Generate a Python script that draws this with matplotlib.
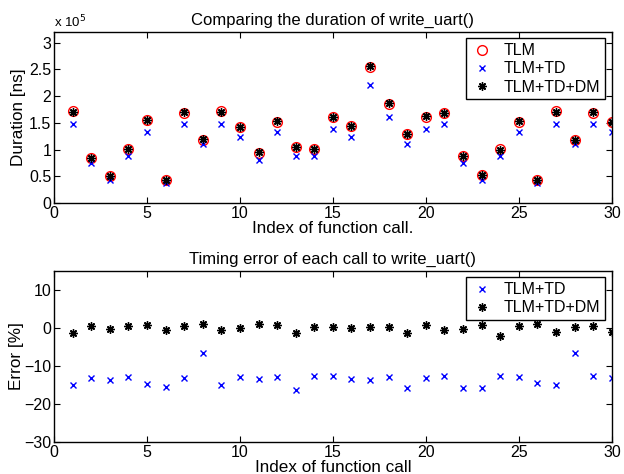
import matplotlib
matplotlib.use("Agg")
import matplotlib.pyplot as plt
import numpy as np

plt.rcParams['font.family'] = ['Liberation Sans', 'DejaVu Sans']
plt.rcParams['font.size'] = 11

calls = np.arange(1, 31)

# duration in units of 1e5 ns
tlm = [1.72, 0.84, 0.51, 1.01, 1.55, 0.43, 1.69, 1.18, 1.72, 1.42,
       0.94, 1.52, 1.05, 1.01, 1.61, 1.44, 2.55, 1.86, 1.30, 1.61,
       1.69, 0.88, 0.52, 1.01, 1.52, 0.43, 1.72, 1.18, 1.69, 1.52]
tlm_td = [1.47, 0.74, 0.43, 0.88, 1.32, 0.37, 1.47, 1.10, 1.47, 1.24,
          0.81, 1.32, 0.88, 0.88, 1.39, 1.24, 2.21, 1.61, 1.10, 1.39,
          1.47, 0.74, 0.43, 0.88, 1.32, 0.37, 1.47, 1.10, 1.47, 1.32]
tlm_td_dm = [1.70, 0.84, 0.51, 1.01, 1.56, 0.43, 1.70, 1.19, 1.71, 1.42,
             0.95, 1.53, 1.04, 1.01, 1.61, 1.44, 2.56, 1.87, 1.29, 1.62,
             1.68, 0.88, 0.52, 0.99, 1.53, 0.43, 1.71, 1.18, 1.70, 1.51]

# error in percent
err_td = [-15.0, -13.1, -13.6, -12.8, -14.8, -15.4, -13.1, -6.6, -15.0, -12.8,
          -13.4, -12.8, -16.4, -12.7, -12.7, -13.4, -13.6, -12.8, -15.7, -13.1,
          -12.7, -15.9, -15.9, -12.7, -12.8, -14.5, -15.0, -6.6, -12.7, -13.1]
err_dm = [-1.2, 0.4, -0.2, 0.4, 0.7, -0.6, 0.4, 1.0, -0.6, 0.0,
          1.0, 0.7, -1.2, 0.3, 0.3, -0.1, 0.3, 0.3, -1.2, 0.9,
          -0.6, -0.2, 0.9, -2.1, 0.6, 1.1, -1.0, 0.3, 0.6, -1.0]

fig = plt.figure(figsize=(6.24, 4.74), dpi=100)
ax1 = fig.add_axes([0.0865, 0.5717, 0.894, 0.3608])
ax2 = fig.add_axes([0.0865, 0.0675, 0.894, 0.3608])

star = (8, 2, 0)
leg_kw = dict(loc='upper right', fancybox=False, edgecolor='black', framealpha=1,
              borderpad=0.3, labelspacing=0.2, handlelength=1.4,
              handletextpad=0.7, borderaxespad=0.4, fontsize=11.5)

ax1.plot(calls, tlm, 'o', mfc='none', mec='red', ms=7, mew=1.0, label='TLM')
ax1.plot(calls, tlm_td, 'x', color='blue', ms=5, mew=1.0, label='TLM+TD')
ax1.plot(calls, tlm_td_dm, ls='none', marker=star, color='black', ms=6, mew=1.0,
         label='TLM+TD+DM')
ax1.set_xlim(0, 30)
ax1.set_ylim(0, 3.2)
ax1.set_yticks([0, 0.5, 1, 1.5, 2, 2.5, 3])
ax1.set_yticklabels(['0', '0.5', '1', '1.5', '2', '2.5', '3'])
ax1.set_title('Comparing the duration of write_uart()', fontsize=12, pad=5)
ax1.set_xlabel('Index of function call.', fontsize=12.3, labelpad=0)
ax1.set_ylabel('Duration [ns]', fontsize=12.3, labelpad=2)
ax1.text(0, 1.01, r'x 10$^5$', transform=ax1.transAxes, fontsize=9.5, va='bottom')
ax1.legend(**leg_kw)

ax2.plot(calls, err_td, 'x', color='blue', ms=5, mew=1.0, label='TLM+TD')
ax2.plot(calls, err_dm, ls='none', marker=star, color='black', ms=6, mew=1.0,
         label='TLM+TD+DM')
ax2.set_xlim(0, 30)
ax2.set_ylim(-30, 15)
ax2.set_yticks([-30, -20, -10, 0, 10])
ax2.set_title('Timing error of each call to write_uart()', fontsize=12, pad=5)
ax2.set_xlabel('Index of function call', fontsize=12.3, labelpad=0)
ax2.set_ylabel('Error [%]', fontsize=12.3, labelpad=0)
ax2.legend(**leg_kw)

for ax in (ax1, ax2):
    ax.set_xticks([0, 5, 10, 15, 20, 25, 30])
    ax.tick_params(direction='in', top=True, right=True, length=4, width=0.8,
                   labelsize=11.5)
    ax.tick_params(axis='x', pad=2)
    ax.tick_params(axis='y', pad=2)
    for s in ax.spines.values():
        s.set_linewidth(1.0)

fig.savefig('out.png', dpi=100)
